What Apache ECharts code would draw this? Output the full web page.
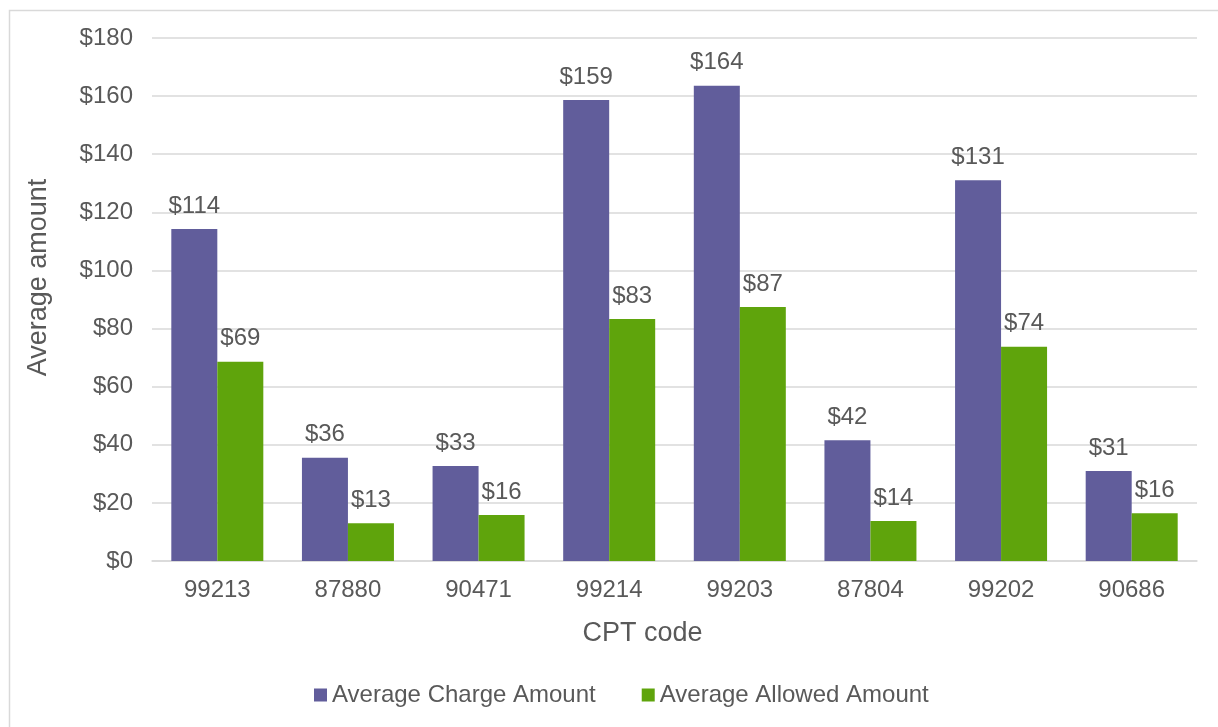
<!DOCTYPE html>
<html>
<head>
<meta charset="utf-8">
<script src="https://cdn.jsdelivr.net/npm/echarts@6/dist/echarts.min.js"></script>
<style>
    html, body { margin: 0; padding: 0; background: #fff; }
    #chart { width: 1218px; height: 727px; }
</style>
</head>
<body>
<div id="chart"></div>
<script>
// CPT codes on the x axis
const cptCodes = ['99213', '87880', '90471', '99214', '99203', '87804', '99202', '90686'];
// values
const chargeAmount = [114.3, 35.5, 32.7, 158.7, 163.6, 41.6, 131.0, 31.0];
const allowedAmount = [68.6, 13.0, 15.8, 83.3, 87.4, 13.8, 73.7, 16.4];
const yTicks = { min: 0, max: 180, interval: 20 };

const textColor = '#595959';
const gridColor = '#d9d9d9';
const font = 'Liberation Sans, Arial, sans-serif';

let myChart = echarts.init(document.getElementById('chart'));

const labelOpt = {
    show: true,
    position: 'top',
    distance: 11,
    color: textColor,
    fontSize: 24,
    fontFamily: font,
    formatter: p => '$' + Math.round(p.value)
};

myChart.setOption({
    animation: false,
    textStyle: { fontFamily: font },
    graphic: [{
        type: 'rect',
        left: 7,
        top: 8,
        shape: { width: 1300, height: 800 },
        style: { fill: 'none', stroke: gridColor, lineWidth: 1.5 },
        silent: true
    }],
    grid: { left: 152, right: 21, top: 38, bottom: 166 },
    legend: {
        bottom: 15,
        left: 309,
        itemWidth: 13,
        itemHeight: 13,
        itemGap: 46,
        icon: 'rect',
        textStyle: { color: textColor, fontSize: 24, fontFamily: font },
        data: ['Average Charge Amount', 'Average Allowed Amount']
    },
    xAxis: {
        type: 'category',
        data: cptCodes,
        name: 'CPT code',
        nameLocation: 'middle',
        nameGap: 59,
        nameTextStyle: { color: textColor, fontSize: 27, fontFamily: font, padding: [0, 64, 0, 0] },
        axisLine: { lineStyle: { color: gridColor, width: 1.5 } },
        axisTick: { show: false },
        axisLabel: { color: textColor, fontSize: 24, fontFamily: font, margin: 17 }
    },
    yAxis: {
        type: 'value',
        min: yTicks.min,
        max: yTicks.max,
        interval: yTicks.interval,
        name: 'Average amount',
        nameLocation: 'middle',
        nameGap: 100,
        nameTextStyle: { color: textColor, fontSize: 27, fontFamily: font, padding: [0, 0, 0, 44] },
        axisLine: { show: false },
        axisTick: { show: false },
        axisLabel: { color: textColor, fontSize: 24, fontFamily: font, margin: 19, formatter: v => '$' + v },
        splitLine: { lineStyle: { color: gridColor, width: 1.5 } }
    },
    series: [
        {
            name: 'Average Charge Amount',
            type: 'bar',
            data: chargeAmount,
            barWidth: 46,
            barGap: '0%',
            itemStyle: { color: '#615d9b' },
            label: labelOpt
        },
        {
            name: 'Average Allowed Amount',
            type: 'bar',
            data: allowedAmount,
            barWidth: 46,
            itemStyle: { color: '#5fa40c' },
            label: labelOpt
        }
    ]
});
</script>
</body>
</html>
